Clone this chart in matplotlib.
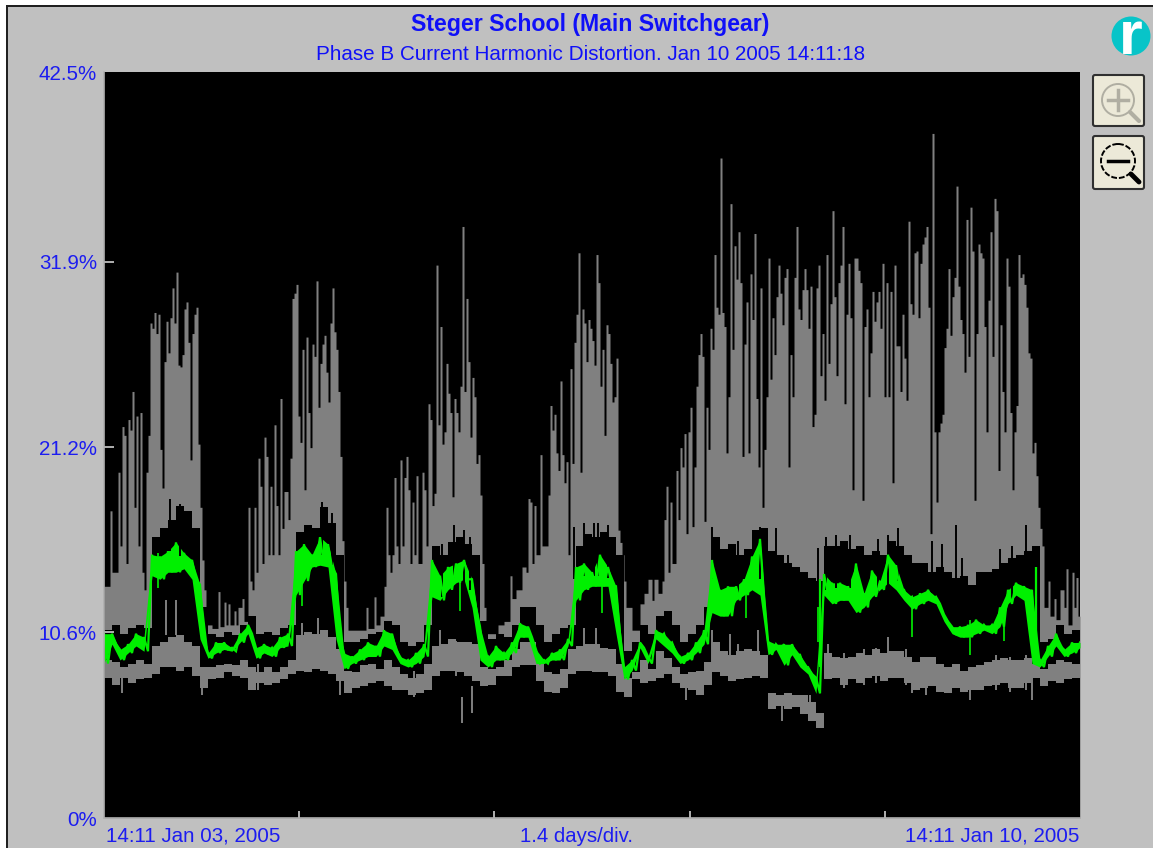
#!/usr/bin/env python3
"""Phase B current harmonic distortion trend, Steger School main switchgear."""
import numpy as np
import matplotlib
matplotlib.use("Agg")
import matplotlib.pyplot as plt
from matplotlib.patches import Circle, FancyBboxPatch, Rectangle

plt.rcParams["font.family"] = ["Liberation Sans", "DejaVu Sans"]

TITLE = "Steger School (Main Switchgear)"
SUBTITLE = "Phase B Current Harmonic Distortion. Jan 10 2005 14:11:18"
Y_TICKS = [0, 10.57, 21.11, 31.68, 42.5]
Y_LABELS = ["0%", "10.6%", "21.2%", "31.9%", "42.5%"]
X_DIV_TICKS = [1.4, 2.8, 4.2, 5.6]
X_LEFT_LABEL = "14:11 Jan 03, 2005"
X_MID_LABEL = "1.4 days/div."
X_RIGHT_LABEL = "14:11 Jan 10, 2005"

# recording is 7 days cut in 488 samples
N_SAMPLES = 488
SPAN_DAYS = 7.0

# maximum per sample as (sample, %), value holds until the next entry
max_day1 = [(0, 13.2), (3, 17.5), (4, 14.0), (7, 19.7), (8, 15.5), (9, 22.3), (10, 21.8), (11, 14.5), (12, 22.7),
            (13, 22.1), (14, 24.3), (15, 17.7), (16, 22.9), (17, 15.5), (18, 23.1), (19, 14.0), (20, 13.0), (21, 19.7),
            (22, 21.8), (23, 28.2), (24, 27.9), (25, 28.8), (26, 27.6), (27, 28.7), (28, 21.0), (29, 18.8), (30, 26.0),
            (31, 28.3), (32, 26.5), (33, 28.5), (34, 30.2), (35, 28.2), (36, 31.1), (37, 25.8), (38, 25.7), (39, 26.4),
            (40, 29.0), (41, 29.4), (42, 27.1), (43, 20.4), (44, 27.6), (45, 28.7), (46, 29.1), (47, 21.3), (48, 17.7),
            (49, 14.7), (50, 13.0), (51, 11.0), (54, 10.8), (57, 12.9), (58, 10.9), (60, 12.3), (61, 11.0), (62, 12.2),
            (63, 11.0), (65, 11.8), (66, 11.0), (67, 12.0), (69, 12.5), (70, 11.2)]
max_day2 = [(72, 17.7), (73, 13.5), (74, 13.0), (75, 17.7), (76, 14.0), (77, 20.5), (78, 18.9), (79, 14.5), (80, 21.7),
            (81, 20.6), (82, 15.0), (83, 18.9), (84, 15.0), (85, 22.4), (86, 17.8), (87, 15.0), (88, 23.9), (89, 16.5),
            (90, 18.6), (92, 17.0), (93, 20.5), (94, 29.6), (95, 29.9), (96, 30.4), (97, 22.9), (98, 21.4), (99, 26.7),
            (100, 18.7), (101, 27.4), (102, 23.1), (103, 21.1), (104, 27.0), (105, 26.3), (106, 30.6), (107, 23.4),
            (108, 25.9), (109, 27.0), (110, 27.5), (111, 25.4), (112, 23.7), (113, 28.2), (114, 30.2), (115, 27.7),
            (116, 26.7), (117, 24.3), (118, 20.6), (119, 15.8), (120, 13.5), (121, 12.0), (122, 10.7), (131, 12.0),
            (132, 10.8), (135, 12.6), (136, 11.0), (138, 11.5), (140, 13.2)]
max_day3 = [(141, 17.7), (142, 15.0), (143, 14.0), (144, 15.0), (145, 19.4), (146, 15.5), (147, 14.5), (148, 20.4),
            (149, 15.5), (150, 19.4), (151, 20.6), (152, 18.7), (153, 14.5), (154, 18.0), (155, 15.0), (156, 19.5),
            (157, 14.5), (159, 19.7), (160, 18.7), (161, 15.5), (162, 23.6), (163, 22.7), (164, 17.8), (165, 18.5),
            (166, 31.5), (167, 22.4), (168, 28.0), (169, 21.3), (170, 22.0), (171, 25.9), (172, 24.2), (173, 23.1),
            (174, 18.3), (175, 23.9), (176, 23.1), (177, 22.0), (178, 24.6), (179, 33.7), (180, 24.3), (181, 29.6),
            (182, 26.0), (183, 21.7), (184, 25.1), (185, 24.0), (186, 20.2), (187, 20.7), (188, 18.4), (189, 14.5),
            (190, 12.0), (191, 10.5), (197, 11.0), (200, 11.2), (203, 13.8), (204, 12.5), (206, 13.0), (209, 14.3),
            (211, 14.0)]
max_day4 = [(212, 18.2), (213, 18.0), (214, 14.5), (215, 17.8), (216, 15.0), (218, 20.7), (219, 15.5), (222, 18.4),
            (223, 23.5), (224, 22.1), (225, 23.0), (226, 20.8), (227, 19.8), (228, 24.9), (229, 20.7), (230, 19.1),
            (231, 20.3), (232, 15.0), (233, 25.6), (234, 20.2), (235, 27.1), (236, 28.7), (237, 32.2), (238, 19.7),
            (239, 29.0), (240, 28.2), (241, 26.0), (242, 28.4), (243, 27.9), (244, 27.2), (245, 25.8), (246, 32.1),
            (247, 30.5), (248, 24.6), (249, 26.7), (250, 21.8), (251, 28.1), (252, 27.6), (253, 25.9), (254, 23.7),
            (255, 24.0), (256, 26.2), (257, 16.4), (258, 15.7), (259, 15.0), (260, 13.5), (261, 12.0), (264, 10.7),
            (268, 12.2), (270, 12.8), (272, 13.6), (274, 12.4), (275, 13.6), (277, 12.8), (279, 13.5), (280, 17.0),
            (281, 18.9), (282, 14.0), (283, 18.0), (284, 14.5)]
max_day5 = [(286, 19.8), (287, 17.0), (288, 21.1), (289, 20.0), (290, 21.9), (291, 16.2), (292, 22.0), (293, 23.4),
            (294, 16.6), (295, 20.0), (296, 24.6), (297, 26.4), (298, 27.6), (299, 26.3), (300, 16.9), (301, 23.4),
            (302, 21.0), (303, 27.9), (304, 26.7), (305, 32.1), (306, 29.1), (307, 28.7), (308, 37.6), (309, 28.8),
            (310, 28.0), (311, 20.8), (312, 24.0), (313, 35.0), (314, 26.7), (315, 32.6), (316, 30.7), (317, 33.4),
            (318, 30.5), (319, 20.6), (320, 27.0), (321, 29.4), (322, 20.8), (323, 31.0), (324, 28.4), (325, 33.3),
            (326, 23.9), (327, 20.0), (328, 30.2), (329, 17.7), (330, 21.0), (331, 24.0), (332, 31.9), (333, 25.0),
            (334, 28.5), (335, 26.4), (336, 29.7), (337, 31.5), (338, 29.9), (339, 28.1), (340, 30.8), (341, 31.3),
            (342, 20.0), (343, 26.4), (344, 24.0), (345, 30.8), (346, 33.7), (347, 29.0), (348, 28.4), (349, 30.1)]
max_day6 = [(350, 31.3), (351, 30.1), (352, 27.9), (353, 30.3), (354, 22.3), (355, 23.0), (356, 30.2), (357, 31.5),
            (358, 25.2), (359, 27.6), (360, 23.8), (361, 32.1), (362, 25.9), (363, 29.3), (364, 34.6), (365, 29.7),
            (366, 25.2), (367, 30.5), (368, 31.5), (369, 33.7), (370, 23.6), (371, 28.7), (372, 31.6), (373, 28.5),
            (374, 18.7), (375, 31.9), (377, 31.2), (378, 30.5), (379, 18.1), (380, 28.0), (381, 29.0), (382, 24.0),
            (383, 26.5), (384, 30.0), (385, 28.3), (386, 29.4), (387, 30.0), (388, 27.9), (389, 31.6), (390, 24.0),
            (391, 30.5), (392, 24.0), (393, 30.0), (394, 19.1), (395, 31.5), (396, 26.9), (398, 24.3), (399, 28.7),
            (400, 26.2), (401, 23.8), (402, 34.0), (403, 29.3), (404, 28.7), (405, 32.2), (406, 32.3), (407, 28.5),
            (408, 31.6), (409, 32.7), (410, 33.1), (411, 33.7), (412, 29.1), (413, 16.2), (414, 39.0)]
max_day7 = [(415, 22.0), (416, 18.0), (417, 22.0), (418, 22.5), (419, 23.0), (420, 26.8), (421, 27.9), (422, 31.3),
            (423, 27.5), (424, 29.7), (425, 30.8), (426, 36.0), (427, 30.3), (428, 28.4), (429, 27.6), (430, 25.4),
            (431, 34.1), (432, 26.3), (433, 34.8), (434, 32.3), (435, 18.1), (436, 27.6), (437, 32.7), (438, 32.2),
            (439, 31.9), (440, 28.0), (441, 22.0), (442, 29.5), (443, 33.4), (444, 26.3), (445, 35.3), (446, 34.6),
            (447, 19.8), (448, 28.1), (449, 24.3), (450, 22.0), (451, 31.9), (452, 30.3), (453, 23.1), (454, 18.7),
            (455, 22.0), (456, 23.5), (457, 32.1), (458, 30.8), (459, 31.0), (460, 30.4), (461, 29.1), (462, 26.5),
            (463, 26.2), (464, 20.8), (465, 21.4), (466, 19.5), (467, 17.7), (468, 16.5), (469, 15.5), (470, 12.0),
            (472, 13.5), (473, 11.5), (475, 12.5), (476, 11.3), (478, 13.0), (480, 12.0), (481, 14.2), (482, 11.0),
            (484, 14.0), (485, 12.0), (486, 13.7), (487, 11.5), (488, 11.5)]

# the other traces hold one value per 4 samples, first sample 0, last sample 488
black_top = [10.7, 11.0, 10.5, 10.8, 11.0, 10.8, 16.0, 16.5, 17.0, 17.8,
             17.5, 16.5, 12.0, 10.5, 10.3, 10.6, 10.4, 11.0, 11.5, 10.5,
             10.6, 10.4, 10.8, 11.0, 16.3, 16.7, 16.5, 17.7, 16.8, 15.0,
             10.0, 10.0, 10.2, 10.5, 10.6, 11.2, 11.0, 10.0, 9.8, 10.0,
             11.0, 15.5, 15.0, 15.7, 16.0, 15.6, 15.0, 11.2, 10.2, 10.5,
             10.3, 11.0, 12.0, 12.0, 11.0, 10.0, 10.5, 10.8, 11.0, 15.5,
             16.2, 16.0, 16.3, 16.0, 15.0, 9.5, 10.0, 11.0, 10.5, 11.5,
             11.8, 11.0, 10.0, 10.5, 11.0, 12.0, 16.0, 15.3, 15.6, 15.0,
             15.3, 16.4, 16.5, 15.2, 15.0, 14.5, 14.3, 14.0, 13.7, 13.5,
             15.5, 15.5, 15.8, 15.3, 15.5, 15.0, 15.2, 15.0, 15.8, 15.5,
             15.0, 14.5, 14.5, 14.0, 14.3, 14.0, 13.7, 13.8, 13.3, 14.0,
             14.0, 14.2, 14.5, 14.8, 15.0, 15.2, 15.5, 10.0, 10.2, 11.0,
             10.5, 10.7, 10.6]
black_bottom = [9.0, 8.9, 8.6, 8.8, 9.0, 8.8, 9.8, 10.0, 10.3, 10.4,
                10.0, 9.8, 8.6, 8.6, 8.7, 8.8, 8.7, 9.0, 8.6, 8.3,
                8.6, 8.3, 8.6, 9.0, 10.4, 10.6, 10.5, 10.7, 10.3, 9.6,
                8.4, 8.3, 8.7, 8.8, 8.5, 9.0, 8.6, 8.2, 8.0, 8.2,
                8.8, 9.8, 9.9, 10.2, 10.0, 10.0, 9.9, 8.6, 8.5, 8.6,
                9.0, 9.6, 10.0, 10.0, 9.0, 8.3, 8.2, 8.5, 9.6, 9.8,
                9.9, 9.9, 9.7, 9.6, 8.8, 8.0, 8.3, 9.0, 8.5, 9.5,
                9.1, 8.6, 8.2, 8.3, 8.4, 8.9, 10.0, 9.5, 9.3, 9.5,
                9.6, 9.5, 9.3, 7.1, 7.0, 7.1, 7.0, 7.0, 6.6, 6.0,
                9.4, 9.2, 9.1, 9.2, 9.4, 9.3, 9.6, 9.4, 9.5, 9.5,
                9.2, 8.9, 9.2, 9.2, 8.8, 8.6, 8.8, 8.4, 8.6, 8.7,
                8.9, 9.0, 9.1, 9.0, 9.0, 9.1, 8.8, 8.5, 8.8, 9.0,
                8.9, 8.8, 9.4]
gray_bottom = [8.0, 7.6, 8.0, 7.7, 7.9, 8.0, 8.2, 8.6, 8.6, 8.4,
               8.6, 8.1, 7.4, 7.9, 8.0, 8.3, 8.1, 8.0, 7.3, 7.7,
               7.6, 7.7, 7.9, 8.2, 8.4, 8.3, 8.5, 8.4, 8.2, 7.8,
               7.1, 7.4, 7.5, 7.7, 7.8, 7.5, 7.3, 7.3, 7.0, 7.1,
               7.3, 8.1, 8.4, 8.4, 8.3, 8.1, 7.8, 7.5, 7.6, 8.1,
               8.1, 8.6, 8.7, 8.7, 7.8, 7.2, 7.1, 7.4, 8.2, 8.4,
               8.4, 8.3, 8.3, 8.1, 7.2, 6.9, 7.9, 7.7, 7.8, 8.0,
               8.2, 7.7, 7.4, 7.3, 7.0, 7.6, 8.3, 8.1, 7.8, 7.9,
               8.0, 8.1, 8.0, 6.2, 6.4, 6.2, 6.3, 5.9, 5.5, 5.1,
               7.9, 8.0, 7.6, 7.9, 7.7, 8.0, 8.1, 7.8, 8.0, 8.0,
               7.7, 7.3, 7.4, 7.5, 7.2, 7.1, 7.4, 7.2, 7.3, 7.3,
               7.5, 7.6, 7.7, 7.4, 7.4, 7.7, 8.0, 7.5, 7.8, 7.7,
               7.9, 8.0, 7.8]
green_high = [10.5, 10.5, 9.6, 9.9, 10.5, 10.3, 15.0, 14.9, 15.2, 15.7,
              15.1, 14.7, 13.3, 9.4, 10.0, 10.0, 9.7, 10.5, 11.0, 9.7,
              9.9, 9.7, 10.3, 10.5, 15.2, 15.6, 15.0, 16.0, 15.6, 13.9,
              9.4, 9.2, 9.6, 10.0, 9.8, 10.7, 10.5, 9.2, 9.0, 9.4,
              9.9, 14.7, 13.8, 14.3, 14.5, 14.7, 13.6, 10.9, 9.2, 9.8,
              9.4, 10.0, 11.1, 10.9, 9.6, 9.0, 9.4, 9.6, 10.2, 14.3,
              14.5, 14.0, 15.0, 14.3, 13.2, 8.6, 9.0, 10.0, 9.2, 10.7,
              10.5, 10.0, 9.2, 9.4, 10.0, 10.7, 14.7, 13.0, 13.2, 13.2,
              13.6, 14.9, 15.9, 10.1, 9.9, 9.9, 9.9, 9.3, 8.6, 8.0,
              13.9, 13.4, 13.4, 13.2, 14.5, 12.8, 14.1, 13.5, 15.0, 14.4,
              13.0, 12.6, 12.8, 13.0, 12.6, 11.6, 10.9, 10.9, 11.0, 11.3,
              11.0, 11.0, 12.0, 13.0, 13.4, 13.2, 13.0, 9.0, 9.8, 10.5,
              9.6, 10.0, 10.0]
green_low = [8.8, 9.9, 9.0, 9.4, 9.8, 9.5, 13.8, 13.6, 14.0, 14.0,
             14.2, 13.6, 10.2, 9.1, 9.4, 9.6, 9.5, 10.0, 10.5, 9.1,
             9.4, 9.2, 9.7, 9.8, 12.7, 13.5, 14.3, 14.4, 14.3, 10.2,
             8.5, 8.8, 9.0, 9.2, 9.2, 9.8, 9.6, 8.8, 8.6, 8.8,
             9.2, 12.6, 12.4, 13.0, 13.4, 13.6, 12.0, 9.0, 8.6, 9.0,
             9.0, 9.4, 10.3, 10.3, 8.8, 8.8, 9.0, 9.0, 9.8, 12.4,
             13.0, 13.2, 13.2, 13.2, 10.5, 7.9, 8.4, 9.7, 8.8, 10.2,
             9.8, 9.4, 8.8, 9.0, 9.4, 9.9, 11.7, 11.5, 11.5, 12.4,
             12.7, 13.0, 12.7, 9.3, 9.6, 8.7, 9.3, 8.6, 8.2, 7.1,
             12.7, 12.2, 12.4, 12.4, 11.7, 12.0, 12.6, 13.0, 13.4, 13.0,
             12.4, 11.9, 12.2, 12.4, 12.2, 11.2, 10.5, 10.3, 10.3, 10.5,
             10.7, 10.5, 10.9, 12.2, 12.7, 12.4, 8.8, 8.6, 9.2, 9.8,
             9.2, 9.4, 9.7]

# single readings that stick out of those traces, (sample, %)
low_dips = [(9, 7.1), (49, 7.0), (77, 7.3), (118, 7.0), (155, 6.9), (179, 5.4), (184, 6.0), (291, 6.7),
            (339, 5.5), (353, 5.5), (404, 7.1), (433, 6.7), (464, 6.7)]
low_band_rises = [(31, 12.4), (36, 12.4), (99, 11.1), (107, 11.4), (168, 10.7), (176, 10.1), (240, 10.8),
                  (246, 10.8), (304, 10.7), (313, 10.5), (317, 9.9), (327, 10.7), (362, 9.9), (370, 9.4),
                  (380, 9.6), (386, 9.7), (392, 10.3), (401, 9.6), (411, 9.0), (446, 9.3), (453, 9.2), (461, 9.3)]
black_rises = [(33, 18.2), (38, 17.9), (109, 18.0), (114, 17.4), (169, 15.6), (175, 16.7), (180, 16.4), (183, 16.0),
               (235, 16.6), (240, 16.8), (245, 16.8), (247, 16.8), (252, 16.7), (304, 16.6), (317, 15.8), (328, 16.6),
               (336, 16.5), (342, 15.0), (357, 15.4), (361, 16.0), (366, 16.1), (373, 16.1), (387, 15.9), (392, 16.1),
               (397, 16.5), (414, 15.8), (419, 15.6), (426, 16.7), (429, 14.8), (448, 15.3), (454, 15.5), (461, 16.7)]
green_drops = [(27, 13.1), (99, 12.1), (178, 11.8), (249, 11.7), (321, 11.4), (357, 10.0), (404, 10.3), (433, 9.3),
               (450, 10.1), (466, 8.7)]
green_peaks = [(466, 14.3), (358, 13.6)]


def to_days(samples):
    return np.asarray(samples, dtype=float) * SPAN_DAYS / N_SAMPLES


max_trace = dict(max_day1 + max_day2 + max_day3 + max_day4 + max_day5 + max_day6 + max_day7)
max_samples = sorted(max_trace)
max_values = [max_trace[s] for s in max_samples]
band_days = to_days(np.arange(len(black_top)) * 4)
band_step = band_days[1] - band_days[0]

fig = plt.figure(figsize=(11.53, 8.48), dpi=100, facecolor="#c0c0c0")

# window frame, buttons and logo, all in image pixels
back = fig.add_axes([0, 0, 1, 1], zorder=0)
back.set_xlim(0, 1153)
back.set_ylim(848, 0)
back.axis("off")
back.add_patch(Rectangle((0, 0), 1153, 5, fc="white", ec="none"))
back.add_patch(Rectangle((0, 5), 1153, 1.5, fc="#202020", ec="none"))
back.add_patch(Rectangle((0, 0), 6, 848, fc="white", ec="none"))
back.add_patch(Rectangle((6, 5), 1.5, 843, fc="#202020", ec="none"))
back.add_patch(Circle((1131, 36), 19.5, fc="#08c4c8", ec="none"))
back.text(1131, 38, "r", color="white", fontsize=44, fontweight="bold", ha="center", va="center", clip_on=True)
for top, bottom in [(74, 127), (135, 190)]:
    back.add_patch(FancyBboxPatch((1093, top + 1), 51, bottom - top - 2, boxstyle="round,pad=0,rounding_size=2",
                                  fc="#ece9d8", ec="#303030", lw=1.5))
back.add_patch(Circle((1118, 100), 16, fc="none", ec="#b0aea2", lw=1.4))
back.plot([1130, 1139], [112, 121], color="#b0aea2", lw=3, solid_capstyle="round")
back.plot([1108, 1128], [100, 100], color="#b0aea2", lw=2.5)
back.plot([1118, 1118], [90, 110], color="#b0aea2", lw=2.5)
back.add_patch(Circle((1118, 161), 17, fc="none", ec="black", lw=1.4, ls=(0, (3, 1))))
back.plot([1131, 1139], [174, 182], color="black", lw=3.5, solid_capstyle="round")
back.plot([1108, 1128], [161, 161], color="black", lw=2.5)

ax = fig.add_axes([104 / 1153, 1 - 818 / 848, 976 / 1153, 746 / 848], zorder=1, facecolor="black")
ax.fill_between(to_days(max_samples), 0, max_values, step="post", color="#808080", lw=0)
ax.fill_between(band_days, 0, gray_bottom, step="post", color="black", lw=0)
ax.fill_between(band_days, black_bottom, black_top, step="post", color="black", lw=0)

# stray readings: black teeth above the band, gray ones into it and under it
rise_s, rise_v = zip(*black_rises)
ax.vlines(to_days(rise_s), np.array(rise_v) - 3, rise_v, color="black", lw=1.4)
up_s, up_v = zip(*low_band_rises)
ax.vlines(to_days(up_s), np.array(up_v) - 2, up_v, color="#808080", lw=1.4)
dip_s, dip_v = zip(*low_dips)
ax.vlines(to_days(dip_s), dip_v, np.array(dip_v) + 1.5, color="#808080", lw=1.4)

# green band, its edge swings between low and high on every step
ax.fill_between(band_days, green_low, green_high, color="#00f000", lw=0)
zig_days = np.column_stack([band_days, band_days + band_step / 2]).ravel()
zig_values = np.column_stack([green_high, green_low]).ravel()
ax.plot(zig_days[:-1], zig_values[:-1], color="#00f000", lw=1.6, solid_joinstyle="miter")
drop_s, drop_v = zip(*green_drops)
ax.vlines(to_days(drop_s), drop_v, np.array(drop_v) + 2, color="#00f000", lw=1.2)
peak_s, peak_v = zip(*green_peaks)
ax.vlines(to_days(peak_s), np.array(peak_v) - 5, peak_v, color="#00f000", lw=1.6)

ax.set_xlim(0, SPAN_DAYS)
ax.set_ylim(0, 42.5)

for side in ["top", "right"]:
    ax.spines[side].set_visible(False)
for side in ["left", "bottom"]:
    ax.spines[side].set_color("#b0b0b0")
    ax.spines[side].set_linewidth(1.2)

ax.set_yticks(Y_TICKS, Y_LABELS)
ax.set_xticks(X_DIV_TICKS, [""] * len(X_DIV_TICKS))
ax.tick_params(axis="y", direction="in", length=7.5, width=1.1, color="#e0e0e0", labelcolor="#1c1cf0",
               labelsize=14.8, pad=5)
ax.tick_params(axis="x", direction="in", length=5, width=1.1, color="#e0e0e0")
yticks = ax.yaxis.get_major_ticks()
yticks[0].tick1line.set_visible(False)
yticks[-1].tick1line.set_visible(False)

blue = "#1c1cf0"
fig.text(590 / 1153, 1 - 25 / 848, TITLE, color="#1010f8", fontsize=16.7, fontweight="bold", ha="center", va="center")
fig.text(591 / 1153, 1 - 54 / 848, SUBTITLE, color="#1010f8", fontsize=14.9, ha="center", va="center")
fig.text(106 / 1153, 1 - 836 / 848, X_LEFT_LABEL, color=blue, fontsize=14.8, ha="left", va="center")
fig.text(576 / 1153, 1 - 836 / 848, X_MID_LABEL, color=blue, fontsize=14.7, ha="center", va="center")
fig.text(1079 / 1153, 1 - 836 / 848, X_RIGHT_LABEL, color=blue, fontsize=14.8, ha="right", va="center")

fig.savefig("out.png", dpi=100, facecolor=fig.get_facecolor())
